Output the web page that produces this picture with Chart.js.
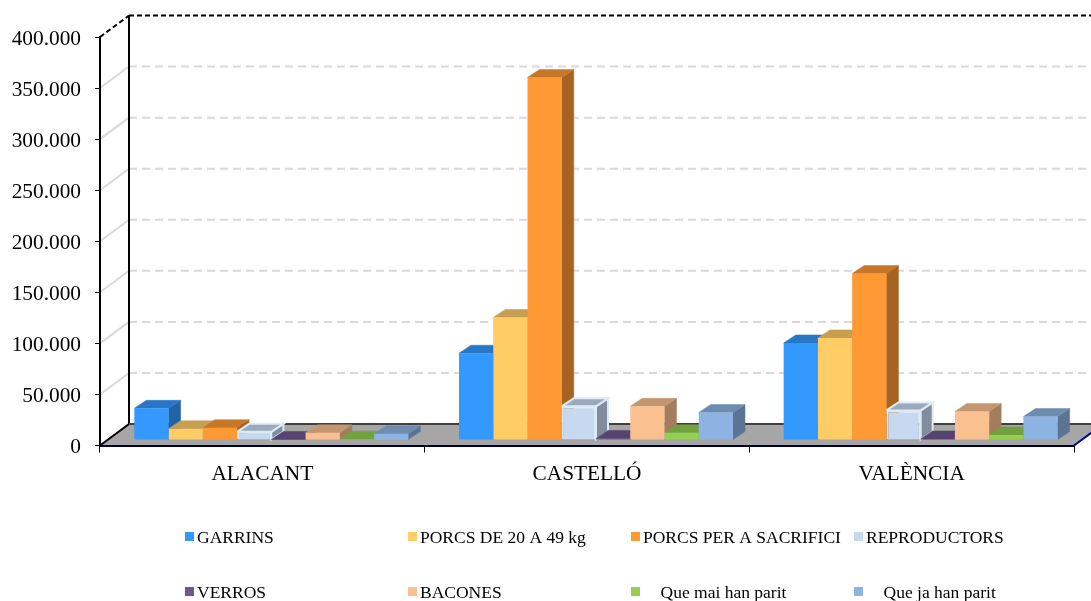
<!DOCTYPE html>
<html>
<head>
<meta charset="utf-8">
<title>Porcs per província</title>
<script src="https://cdn.jsdelivr.net/npm/chart.js@4"></script>
<style>
  html, body { margin: 0; padding: 0; background: #fff; }
  #wrap { width: 1091px; height: 601px; }
</style>
</head>
<body>
<div id="wrap"><canvas id="grafic"></canvas></div>
<script>
// Data
const provincies = ["ALACANT", "CASTELLÓ", "VALÈNCIA"];
const garrins = [31000, 85000, 95000];
const porcs20a49 = [11000, 120000, 100000];
const porcsSacrifici = [12000, 355000, 163000];
const reproductors = [8000, 33000, 29000];
const verros = [500, 1500, 1000];
const bacones = [7000, 33000, 28000];
const queMai = [800, 7000, 5000];
const queJa = [6000, 27000, 23000];
const etiquetes = ["GARRINS", "PORCS DE 20 A 49 kg", "PORCS PER A SACRIFICI", "REPRODUCTORS",
    "VERROS", "BACONES", "    Que mai han parit", "    Que ja han parit"];
const colors = ["#3399ff", "#ffcc66", "#ff9933", "#c6d9f1", "#6f5690", "#fac090", "#92d050", "#8db3e2"];
const vores = ["#3399ff", "#ffcc66", "#ff9933", "#dcebf5", "#6f5690", "#fbd0a8", "#92d050", "#8db3e2"];
const valors = [garrins, porcs20a49, porcsSacrifici, reproductors, verros, bacones, queMai, queJa];

const FONT = "'Liberation Serif', 'Times New Roman', serif";

// Depth of the 3D box: wall offset and bar offset
const fonsX = 29, fonsY = -21.5;
const barraX = 9, barraY = -5.5;
const gruixX = 12, gruixY = -8;

function fosc(hex, f) {
    const n = parseInt(hex.slice(1), 16);
    const r = Math.round((n >> 16) * f);
    const g = Math.round(((n >> 8) & 255) * f);
    const b = Math.round((n & 255) * f);
    return `rgb(${r},${g},${b})`;
}

function cara(ctx, punts, fill, vora, ample) {
    ctx.beginPath();
    punts.forEach((p, i) => i ? ctx.lineTo(p[0], p[1]) : ctx.moveTo(p[0], p[1]));
    ctx.closePath();
    ctx.fillStyle = fill;
    ctx.fill();
    ctx.strokeStyle = vora;
    ctx.lineWidth = ample;
    ctx.stroke();
}

// Walls, floor and gridlines at the back
const caixa3d = {
    id: "caixa3d",
    beforeDraw(chart) {
        const { ctx, chartArea: a, scales } = chart;
        ctx.save();
        ctx.fillStyle = "#fff";
        ctx.fillRect(0, 0, chart.width, chart.height);

        // floor
        ctx.beginPath();
        ctx.moveTo(a.left, a.bottom);
        ctx.lineTo(a.left + fonsX, a.bottom + fonsY);
        ctx.lineTo(a.right + fonsX, a.bottom + fonsY);
        ctx.lineTo(a.right, a.bottom);
        ctx.closePath();
        ctx.fillStyle = "#a6a6a6";
        ctx.fill();

        // gridlines
        scales.y.ticks.forEach(t => {
            const y = scales.y.getPixelForValue(t.value);
            if (t.value === 0) return;
            const alt = t.value === scales.y.max;
            ctx.strokeStyle = alt ? "#000" : "#d9d9d9";
            ctx.lineWidth = 2;
            ctx.setLineDash(alt ? [5, 3] : []);
            ctx.beginPath();
            ctx.moveTo(a.left, y);
            ctx.lineTo(a.left + fonsX, y + fonsY);
            ctx.stroke();
            ctx.setLineDash(alt ? [5, 3] : [8, 5]);
            ctx.beginPath();
            ctx.moveTo(a.left + fonsX, y + fonsY);
            ctx.lineTo(a.right + fonsX, y + fonsY);
            ctx.stroke();
        });
        ctx.setLineDash([]);

        // back left post, floor edges
        ctx.strokeStyle = "#000";
        ctx.lineWidth = 2;
        ctx.beginPath();
        ctx.moveTo(a.left + fonsX, a.top + fonsY);
        ctx.lineTo(a.left + fonsX, a.bottom + fonsY);
        ctx.lineTo(a.left, a.bottom);
        ctx.stroke();
        ctx.strokeStyle = "#404040";
        ctx.beginPath();
        ctx.moveTo(a.left + fonsX, a.bottom + fonsY);
        ctx.lineTo(a.right + fonsX, a.bottom + fonsY);
        ctx.stroke();
        ctx.strokeStyle = "#000099";
        ctx.beginPath();
        ctx.moveTo(a.right, a.bottom);
        ctx.lineTo(a.right + fonsX, a.bottom + fonsY);
        ctx.stroke();
        ctx.restore();
    },
    // sides and tops of all bars, left to right, before the library paints the fronts
    beforeDatasetsDraw(chart) {
        const { ctx } = chart;
        ctx.save();
        ctx.translate(barraX, barraY);
        provincies.forEach((_, c) => {
            valors.forEach((_, i) => {
                const el = chart.getDatasetMeta(i).data[c];
                const p = el.getProps(["x", "y", "base", "width"], true);
                const e = p.x - p.width / 2, d = p.x + p.width / 2;
                const ample = i === 3 ? 2 : 0.5;
                const vTop = i === 3 ? vores[3] : fosc(colors[i], 0.78);
                const vSide = i === 3 ? vores[3] : fosc(colors[i], 0.65);
                if (p.base - p.y > 1) {
                    cara(ctx, [[d, p.y], [d + gruixX, p.y + gruixY], [d + gruixX, p.base + gruixY], [d, p.base]],
                        fosc(colors[i], 0.65), vSide, ample);
                }
                cara(ctx, [[e, p.y], [e + gruixX, p.y + gruixY], [d + gruixX, p.y + gruixY], [d, p.y]],
                    fosc(colors[i], 0.78), vTop, ample);
            });
        });
        ctx.restore();
    },
    beforeDatasetDraw(chart) {
        chart.ctx.save();
        chart.ctx.translate(barraX, barraY);
    },
    afterDatasetDraw(chart) {
        chart.ctx.restore();
    },
    // legend in four fixed columns
    afterDraw(chart) {
        const { ctx } = chart;
        ctx.save();
        ctx.font = "17.5px " + FONT;
        ctx.textBaseline = "middle";
        ctx.textAlign = "left";
        etiquetes.forEach((text, i) => {
            const x = 185 + 223 * (i % 4);
            const y = i < 4 ? 537 : 592;
            ctx.fillStyle = colors[i];
            ctx.fillRect(x, y - 5, 9, 9);
            ctx.fillStyle = "#000";
            ctx.fillText(text, x + 12, y + 1);
        });
        ctx.restore();
    }
};

const ctx = document.getElementById("grafic").getContext("2d");
new Chart(ctx, {
    type: "bar",
    data: {
        labels: provincies,
        datasets: etiquetes.map((nom, i) => ({
            label: nom.trim(),
            data: valors[i],
            backgroundColor: colors[i],
            borderColor: vores[i],
            borderWidth: i === 3 ? 2 : 0,
            clip: false,
            categoryPercentage: 0.844,
            barPercentage: 1
        }))
    },
    options: {
        responsive: true,
        maintainAspectRatio: false,
        animation: false,
        layout: { padding: { left: 0, top: 37, right: 17, bottom: 0 } },
        plugins: { legend: { display: false }, tooltip: { enabled: false } },
        scales: {
            x: {
                afterFit(s) { s.height = 155.5; },
                grid: { drawOnChartArea: false, tickLength: 7, color: "#000", tickWidth: 1 },
                border: { color: "#000033", width: 2 },
                ticks: { color: "#000", padding: 9, font: { family: FONT, size: 21.33 } }
            },
            y: {
                min: 0,
                max: 400000,
                afterFit(s) { s.width = 100; },
                grid: { drawOnChartArea: false, tickLength: 5, color: "#000", tickWidth: 1 },
                border: { color: "#000", width: 2 },
                ticks: {
                    stepSize: 50000,
                    color: "#000",
                    padding: 14,
                    labelOffset: 2,
                    font: { family: FONT, size: 21.33 },
                    callback: v => String(v).replace(/\B(?=(\d{3})+$)/g, ".")
                }
            }
        }
    },
    plugins: [caixa3d]
});
</script>
</body>
</html>
